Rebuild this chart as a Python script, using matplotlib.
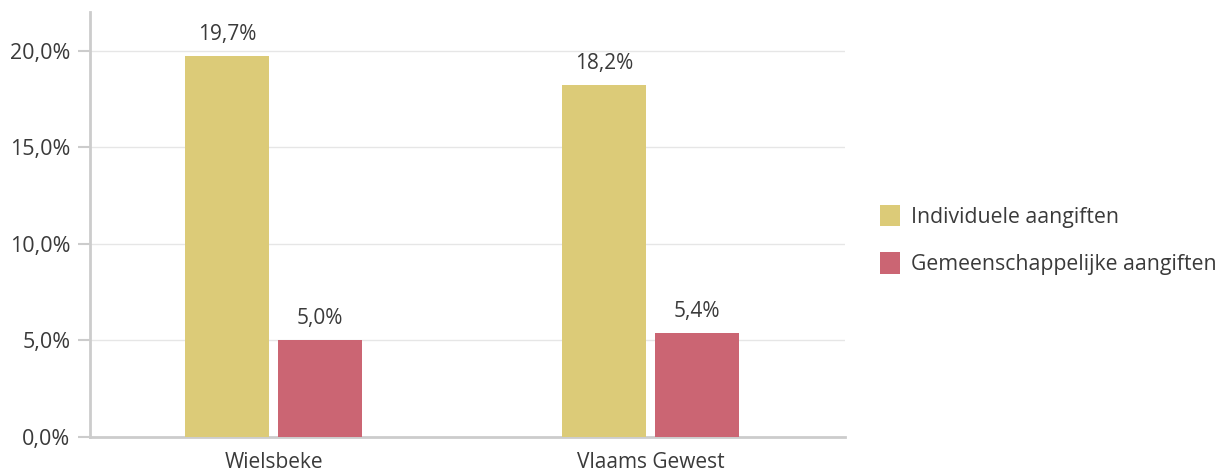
import matplotlib.pyplot as plt
import numpy as np

plt.rcParams['font.family'] = ['Open Sans', 'DejaVu Sans']

categories = ['Wielsbeke', 'Vlaams Gewest']
individueel = [19.7, 18.2]
gemeenschappelijk = [5.0, 5.4]
series_names = ['Individuele aangiften', 'Gemeenschappelijke aangiften']
y_ticks = [0, 5, 10, 15, 20]

kleur_geel = '#DCCB78'
kleur_rood = '#CB6573'
tekst = '#3a3a3a'


def pct(v):
    return f"{v:.1f}%".replace('.', ',')


fig = plt.figure(figsize=(12.2, 4.73), dpi=100)
ax = fig.add_axes([0.0738, 0.0761, 0.6188, 0.8985])

x = np.arange(len(categories))
w = 0.223
off = 0.123
b1 = ax.bar(x - off, individueel, w, color=kleur_geel, label=series_names[0], zorder=3)
b2 = ax.bar(x + off, gemeenschappelijk, w, color=kleur_rood, label=series_names[1], zorder=3)

for bars in (b1, b2):
    ax.bar_label(bars, labels=[pct(b.get_height()) for b in bars], padding=8,
                 fontsize=15, color=tekst)

ax.set_xlim(-0.487, 1.516)
ax.set_ylim(0, 22)
ax.set_yticks(y_ticks)
ax.set_yticklabels([pct(t) for t in y_ticks])
ax.set_xticks(x)
ax.set_xticklabels(categories)

ax.grid(axis='y', color='#e6e6e6', linewidth=1, zorder=0)
for s in ['top', 'right']:
    ax.spines[s].set_visible(False)
for s in ['left', 'bottom']:
    ax.spines[s].set_color('#cccccc')
    ax.spines[s].set_linewidth(2)

ax.tick_params(axis='y', length=9, width=1.5, color='#cccccc', labelsize=15.5,
               labelcolor=tekst, pad=5)
ax.tick_params(axis='x', length=0, labelsize=15, labelcolor=tekst, pad=11)

fig.legend(handles=[b1, b2], loc='center left', bbox_to_anchor=(0.706, 0.493),
           frameon=False, fontsize=15.3, labelcolor=tekst, handlelength=0.9,
           handleheight=1.2, handletextpad=0.55, labelspacing=1.15)

fig.savefig('out.png', dpi=100)
